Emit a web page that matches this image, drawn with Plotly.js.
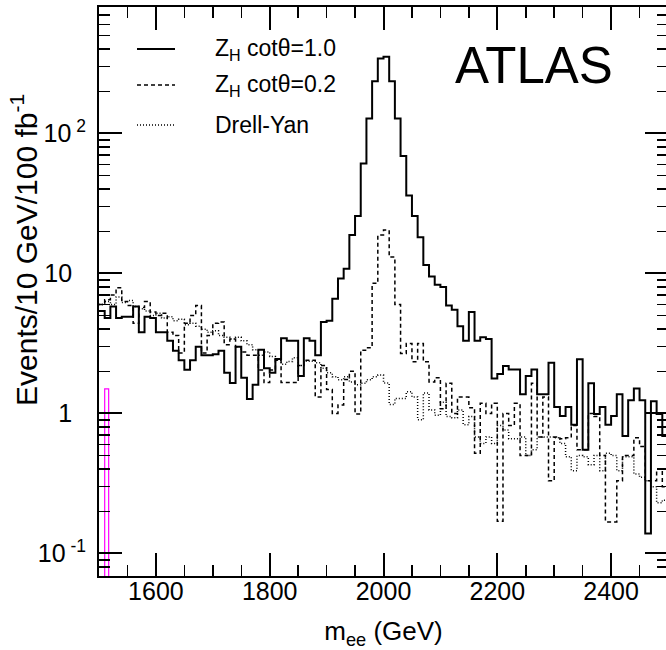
<!DOCTYPE html>
<html><head><meta charset="utf-8">
<script src="https://cdn.plot.ly/plotly-3.0.1.min.js"></script>
<style>html,body{margin:0;padding:0;overflow:hidden;background:#fff}</style>
</head><body><div id="chart" style="width:668px;height:650px"></div>
<script>
const binStart = 1500, binWidth = 10;
const zhCot10 = [5.4,4.8,5.8,4.8,4.9,4.9,5.8,3.8,4.9,4.8,3.8,3.8,3.3,2.8,2.4,2.05,2.4,3.0,2.6,2.6,2.65,2.8,1.95,1.65,3.0,
  1.8,1.27,1.6,2.85,2.1,1.95,2.45,3.45,3.3,3.3,1.85,3.45,3.3,2.6,4.5,4.6,6.6,9.2,10.8,18.8,25.7,61,128,236,343,
  353,236,128,69,36,25.7,18.1,11.5,9.5,8.3,8.0,5.9,5.5,4.2,3.3,5.3,3.3,3.5,3.4,1.78,1.91,2.18,2.06,2.06,1.37,
  1.85,2.06,1.37,1.37,2.3,1.11,0.96,1.11,0.83,2.44,0.55,1.64,0.99,1.11,0.83,0.96,1.37,0.69,1.24,1.51,1.24,0.139,1.22,0.99,0.69];
const zhCot02 = [6.0,6.5,7.0,7.9,6.3,5.9,4.4,5.7,6.3,5.3,5.0,5.2,3.8,3.6,2.7,4.4,5.0,5.9,2.7,3.6,4.4,4.5,3.1,3.4,3.0,
  2.75,2.6,2.6,2.04,1.66,2.04,2.4,1.66,1.66,1.66,2.2,2.4,2.4,1.31,2.2,1.48,1.0,1.15,1.75,2.0,0.99,2.83,2.95,8.5,18.8,
  20.4,13.1,6.0,2.68,3.16,2.34,3.16,2.34,1.68,1.8,1.08,1.64,1.0,1.31,1.31,1.1,0.52,1.18,1.0,1.18,0.17,1.0,0.82,1.18,
  0.5,0.5,1.64,0.68,1.31,0.33,0.68,0.66,0.67,0.82,0.55,0.55,1.0,0.95,0.5,0.168,0.168,0.33,0.5,0.5,0.67,0.58,0.33,0.33,0.4,0.3];
const drellYan = [6.0,6.3,6.0,6.8,6.2,6.4,5.8,5.6,5.4,5.0,5.2,4.8,4.9,4.6,4.7,4.3,4.4,4.2,4.0,3.8,3.9,3.6,3.5,3.4,3.5,
  3.3,3.1,2.85,2.6,2.75,2.55,2.4,2.25,2.35,2.5,2.2,2.36,2.36,2.3,2.1,1.95,1.83,1.74,1.83,1.68,1.6,1.64,1.74,1.83,1.88,
  1.65,1.16,1.28,1.28,1.43,1.31,0.9,1.4,1.06,0.97,1.2,0.95,0.93,1.06,0.83,0.95,0.68,0.61,0.68,0.61,0.82,0.76,0.66,0.66,
  0.68,0.5,0.55,0.68,0.68,0.68,0.67,0.61,0.49,0.39,0.5,0.49,0.43,0.5,0.39,0.52,0.5,0.39,0.49,0.49,0.37,0.35,0.33,0.3,0.23,0.24];
const seriesNames = ['Z<sub>H</sub> cotθ=1.0', 'Z<sub>H</sub> cotθ=0.2', 'Drell-Yan'];
const spikeX = [1513.5];
const spikeY = [1.5];
const spikeWidth = [7];
const xTickVals = [1600, 1800, 2000, 2200, 2400];
const yTickVals = [0.1, 1, 10, 100];
const PAD = '\u00a0\u00a0';
const yTickText = ['10<sup>\u00a0-1</sup>', '1' + PAD, '10' + PAD, '10<sup>\u00a02</sup>'];
const yMinorVals = [0.07,0.08,0.09,0.2,0.3,0.4,0.5,0.6,0.7,0.8,0.9,2,3,4,5,6,7,8,9,20,30,40,50,60,70,80,90,200,300,400,500,600,700,800];

const FONT = 'Liberation Sans, Arial, Helvetica, sans-serif';
function edges(n) { const e = []; for (let i = 0; i <= n; i++) e.push(binStart + i * binWidth); return e; }
function stepVals(v) { return v.concat([v[v.length - 1]]); }

const styles = [
  {color: '#000', width: 2, dash: 'solid'},
  {color: '#000', width: 1.5, dash: '4px,3px'},
  {color: '#000', width: 1.5, dash: '1px,2px'}
];
const allSeries = [zhCot10, zhCot02, drellYan];
const traces = allSeries.map((s, k) => ({
  type: 'scatter', mode: 'lines', x: edges(s.length), y: stepVals(s),
  line: {shape: 'hv', color: styles[k].color, width: styles[k].width, dash: styles[k].dash},
  name: seriesNames[k], showlegend: false, hoverinfo: 'skip'
}));
traces.unshift({
  type: 'bar', x: spikeX, y: spikeY, width: spikeWidth, showlegend: false, hoverinfo: 'skip',
  marker: {color: 'rgba(0,0,0,0)', line: {color: '#ff00ff', width: 1.2}}
});

const L = 99, T = 7, W = 569, H = 569;
const px = x => (x - L) / W;
const py = y => (T + H - y) / H;

const legendRows = [49, 85, 125];
const annotations = [
  {text: 'ATLAS', x: px(534), y: py(65), xref: 'paper', yref: 'paper', xanchor: 'center', yanchor: 'middle',
   showarrow: false, font: {family: FONT, size: 51, color: '#000'}},
  {text: 'Events/10 GeV/100 fb<sup>-1</sup>', textangle: -90, x: px(24), y: py(250), xref: 'paper', yref: 'paper',
   xanchor: 'center', yanchor: 'middle', showarrow: false, font: {family: FONT, size: 30, color: '#000'}}
];
const shapes = [];
seriesNames.forEach((nm, k) => {
  annotations.push({text: nm, x: px(213), y: py(legendRows[k]), xref: 'paper', yref: 'paper', xanchor: 'left',
    yanchor: 'middle', showarrow: false, font: {family: FONT, size: 23, color: '#000'}});
  shapes.push({type: 'line', xref: 'paper', yref: 'paper', x0: px(137), x1: px(175), y0: py(legendRows[k]), y1: py(legendRows[k]),
    line: {color: styles[k].color, width: styles[k].width, dash: styles[k].dash}});
});

const layout = {
  width: 668, height: 650, margin: {l: L, r: 668 - L - W, t: T, b: 650 - T - H},
  paper_bgcolor: '#fff', plot_bgcolor: '#fff', showlegend: false,
  font: {family: FONT, color: '#000'},
  xaxis: {range: [1500, 2500], tickmode: 'array', tickvals: xTickVals, ticks: 'inside', ticklen: 23, tickwidth: 2,
    tickcolor: '#000', showline: true, linewidth: 2, linecolor: '#000', mirror: 'ticks', showgrid: false, zeroline: false,
    tickfont: {family: FONT, size: 25, color: '#000'}, ticklabelstandoff: -8,
    minor: {tickmode: 'linear', tick0: 1500, dtick: 50, ticks: 'inside', ticklen: 11, tickwidth: 1.5, tickcolor: '#000', showgrid: false},
    title: {text: 'm<sub>ee</sub> (GeV)', font: {family: FONT, size: 26, color: '#000'}, standoff: 18}},
  yaxis: {type: 'log', range: [Math.log10(0.069), Math.log10(800)], tickmode: 'array', tickvals: yTickVals, ticktext: yTickText,
    ticks: 'inside', ticklen: 23, tickwidth: 2, tickcolor: '#000', showline: true, linewidth: 2, linecolor: '#000',
    mirror: 'ticks', showgrid: false, zeroline: false, tickfont: {family: FONT, size: 25, color: '#000'}, ticklabelstandoff: 6,
    minor: {tickmode: 'array', tickvals: yMinorVals, ticks: 'inside', ticklen: 11, tickwidth: 1.5, tickcolor: '#000', showgrid: false}},
  annotations: annotations, shapes: shapes, bargap: 0
};
Plotly.newPlot('chart', traces, layout, {staticPlot: true, displayModeBar: false});
</script></body></html>
